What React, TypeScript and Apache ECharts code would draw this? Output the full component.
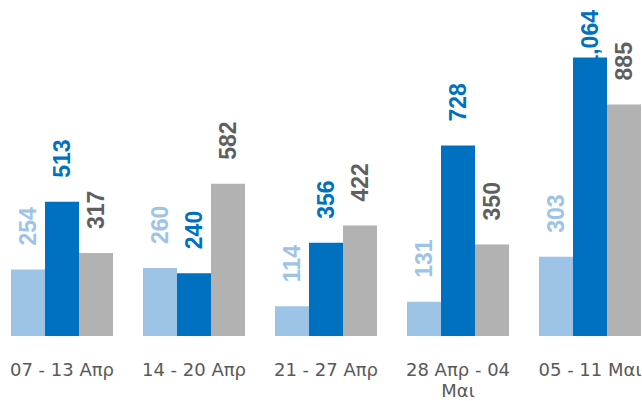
import React, { useEffect, useRef } from "react";
import * as echarts from "echarts";

const categories = ["07 - 13 Απρ", "14 - 20 Απρ", "21 - 27 Απρ", "28 Απρ - 04\nΜαι", "05 - 11 Μαι"];
const seriesA = [254, 260, 114, 131, 303];
const seriesB = [513, 240, 356, 728, 1064];
const seriesC = [317, 582, 422, 350, 885];

const barColors = ["#9DC3E6", "#0070C0", "#B2B2B2"];
const labelColors = ["#9DC3E6", "#0070C0", "#5F5F5F"];

export default function App() {
  const ref = useRef<HTMLDivElement>(null);
  useEffect(() => {
    if (!ref.current) return;
    const chart = echarts.init(ref.current, undefined, { renderer: "svg" });
    const mk = (name: string, data: number[], i: number) => ({
      name,
      type: "bar",
      data: data.map((v) =>
        v > 1000 ? { value: v, label: { distance: -10 } } : v
      ),
      barWidth: 34,
      barGap: "0%",
      itemStyle: { color: barColors[i] },
      label: {
        show: true,
        position: "top",
        rotate: 90,
        align: "left",
        verticalAlign: "middle",
        distance: 24,
        color: labelColors[i],
        fontFamily: "Liberation Sans, Arial, sans-serif",
        fontWeight: "bold",
        fontSize: 23,
        formatter: (p: any) => Number(p.value).toLocaleString("en-US"),
      },
    });
    chart.setOption({
      animation: false,
      grid: { left: 0, right: 0, top: 22, bottom: 63, containLabel: false },
      xAxis: {
        type: "category",
        data: categories,
        axisLine: { show: false },
        axisTick: { show: false },
        axisLabel: {
          interval: 0,
          margin: 23,
          color: "#595959",
          fontFamily: "DejaVu Sans, sans-serif",
          fontSize: 18,
          lineHeight: 21,
        },
      },
      yAxis: {
        type: "value",
        min: 0,
        max: 1200,
        show: false,
        splitLine: { show: false },
      },
      series: [mk("A", seriesA, 0), mk("B", seriesB, 1), mk("C", seriesC, 2)],
    });
    return () => chart.dispose();
  }, []);
  return (
    <div
      style={{ position: "absolute", left: 0, top: 0, width: 642, height: 401, overflow: "hidden", background: "#fff" }}
    >
      <div ref={ref} style={{ position: "absolute", left: -4, top: 0, width: 660, height: 401 }} />
    </div>
  );
}
